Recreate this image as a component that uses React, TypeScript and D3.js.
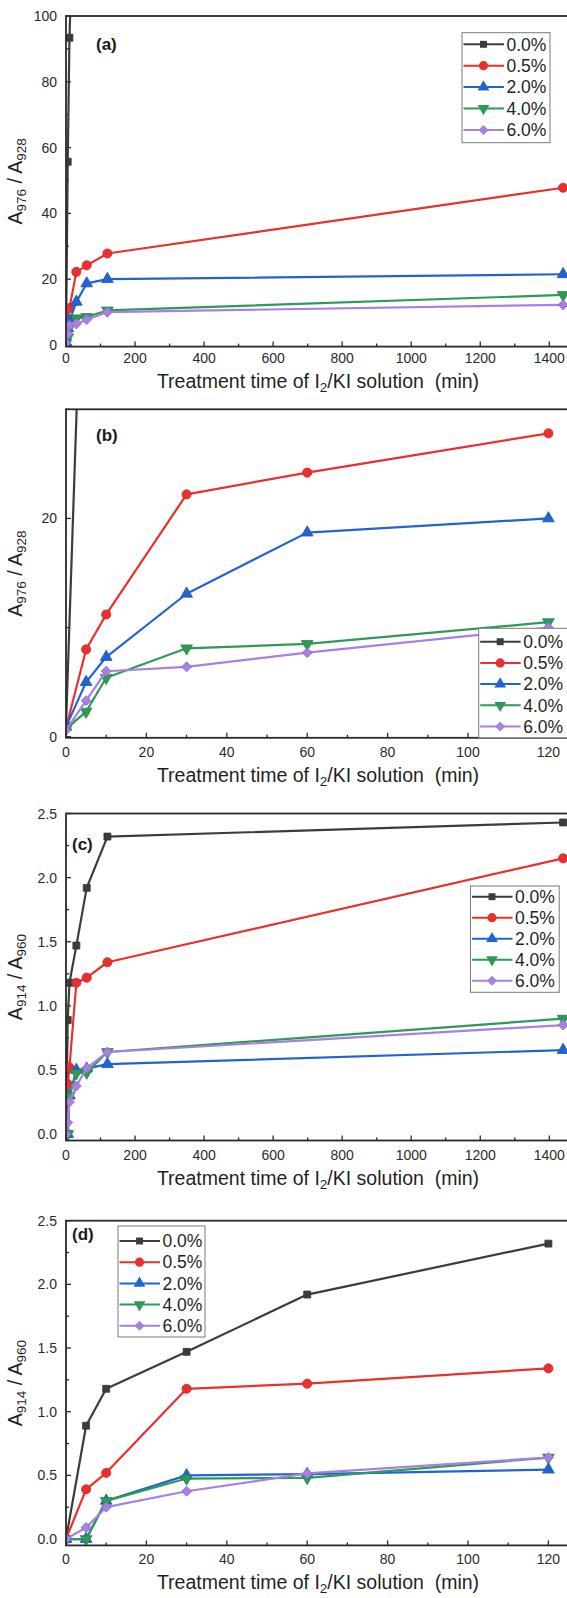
import React, { useEffect, useRef } from 'react';
import * as d3 from 'd3';

// treatment times (min)
const timeMin = [0, 5, 10, 30, 60, 120, 1440];

const seriesNames = ['0.0%', '0.5%', '2.0%', '4.0%', '6.0%'];
const seriesColors = ['#3c3c3c', '#e8312f', '#2263d4', '#2e9a57', '#a97fe4'];
const seriesMarkers = ['square', 'circle', 'triangle', 'triangleDown', 'diamond'];

// A976 / A928 (panels a, b); black series runs off the top after 10 min
const r976_00 = [1.0, 55.7, 93.4, 160, null, null, null];
const r976_05 = [0.8, 8.0, 11.2, 22.2, 24.2, 27.8, 47.8];
const r976_20 = [0.9, 5.0, 7.3, 13.1, 18.7, 20.0, 21.5];
const r976_40 = [0.7, 2.3, 5.4, 8.1, 8.5, 10.5, 15.2];
const r976_60 = [0.6, 3.3, 6.0, 6.4, 7.7, 10.0, 12.2];

// A914 / A960 (panels c, d)
const r914_00 = [0, 0.89, 1.18, 1.47, 1.92, 2.32, 2.43];
const r914_05 = [0, 0.39, 0.52, 1.18, 1.22, 1.34, 2.15];
const r914_20 = [0, 0.0, 0.30, 0.50, 0.51, 0.545, 0.655];
const r914_40 = [0, 0.0, 0.30, 0.475, 0.48, 0.64, 0.90];
const r914_60 = [0, 0.09, 0.25, 0.375, 0.515, 0.64, 0.85];

const longTimeTicks = [0, 200, 400, 600, 800, 1000, 1200, 1400];
const shortTimeTicks = [0, 20, 40, 60, 80, 100, 120];
const r976LongTicks = [0, 20, 40, 60, 80, 100];
const r976ShortTicks = [0, 20];
const r914Ticks = [0, 0.5, 1.0, 1.5, 2.0, 2.5];

const FONT = "'Liberation Sans', Arial, Helvetica, sans-serif";

const panels = [
  {
    label: '(a)', labelX: 96, labelY: 49.5,
    top: 16, bottom: 346.6, yDomain: [-0.5, 100], yTicks: r976LongTicks, yMinor: 10, yFmt: d3.format('d'),
    xDomain: [0, 1460], xRange: [66, 570], xTicks: longTimeTicks, xMinor: 100,
    series: [r976_00, r976_05, r976_20, r976_40, r976_60],
    sub: ['976', '928'], tickGap: 16, titleGap: 41,
    legend: { x: 462, y: 32.7, w: 88, h: 110, first: 11.6, step: 21.4 },
  },
  {
    label: '(b)', labelX: 96, labelY: 441,
    top: 409.3, bottom: 737.8, yDomain: [-0.1, 30], yTicks: r976ShortTicks, yMinor: 10, yFmt: d3.format('d'),
    xDomain: [0, 125], xRange: [66, 568.5], xTicks: shortTimeTicks, xMinor: 10,
    series: [r976_00, r976_05, r976_20, r976_40, r976_60],
    sub: ['976', '928'], tickGap: 19, titleGap: 44,
    legend: { x: 478.7, y: 628.3, w: 95, h: 109.5, first: 13.4, step: 21.2 },
  },
  {
    label: '(c)', labelX: 72, labelY: 849.5,
    top: 813.5, bottom: 1140.5, yDomain: [-0.05, 2.5], yTicks: r914Ticks, yMinor: 0.25, yFmt: d3.format('.1f'),
    xDomain: [0, 1460], xRange: [66, 570], xTicks: longTimeTicks, xMinor: 100,
    series: [r914_00, r914_05, r914_20, r914_40, r914_60],
    sub: ['914', '960'], tickGap: 19, titleGap: 44,
    legend: { x: 470.5, y: 886, w: 88.7, h: 106.3, first: 10.7, step: 21 },
  },
  {
    label: '(d)', labelX: 72, labelY: 1239.5,
    top: 1220.7, bottom: 1545.4, yDomain: [-0.05, 2.5], yTicks: r914Ticks, yMinor: 0.25, yFmt: d3.format('.1f'),
    xDomain: [0, 125], xRange: [66, 568.5], xTicks: shortTimeTicks, xMinor: 10,
    series: [r914_00, r914_05, r914_20, r914_40, r914_60],
    sub: ['914', '960'], tickGap: 19, titleGap: 44,
    legend: { x: 118, y: 1226, w: 87, h: 111, first: 15, step: 21.2 },
  },
];

const markerPath = (kind: string) => {
  if (kind === 'square') return d3.symbol(d3.symbolSquare, 48)();
  if (kind === 'circle') return d3.symbol(d3.symbolCircle, 66)();
  if (kind === 'triangle' || kind === 'triangleDown') return d3.symbol(d3.symbolTriangle, 60)();
  return d3.symbol(d3.symbolSquare, 50)();
};
const markerRot = (kind: string) => (kind === 'triangleDown' ? 180 : kind === 'diamond' ? 45 : 0);

export default function App() {
  const ref = useRef<SVGSVGElement | null>(null);

  useEffect(() => {
    const svg = d3.select(ref.current);
    svg.selectAll('*').remove();

    panels.forEach((p, pi) => {
      const x = d3.scaleLinear().domain(p.xDomain).range(p.xRange);
      const y = d3.scaleLinear().domain(p.yDomain).range([p.bottom, p.top]);
      const g = svg.append('g');
      const clipId = 'clip' + pi;
      g.append('clipPath').attr('id', clipId).append('rect')
        .attr('x', p.xRange[0]).attr('y', p.top)
        .attr('width', p.xRange[1] - p.xRange[0]).attr('height', p.bottom - p.top);

      // minor + major ticks (inward)
      const x0 = p.xRange[0];
      const yMinorVals = d3.range(p.yTicks[0], p.yDomain[1] + 1e-9, p.yMinor);
      yMinorVals.forEach(v => {
        const major = p.yTicks.some(t => Math.abs(t - v) < 1e-9);
        g.append('line').attr('x1', x0).attr('x2', x0 + (major ? 5 : 3))
          .attr('y1', y(v)).attr('y2', y(v)).attr('stroke', '#2a2a2a').attr('stroke-width', 1.3);
      });
      const xMinorVals = d3.range(p.xTicks[0], p.xDomain[1], p.xMinor);
      xMinorVals.forEach(v => {
        const major = p.xTicks.some(t => Math.abs(t - v) < 1e-9);
        g.append('line').attr('x1', x(v)).attr('x2', x(v))
          .attr('y1', p.bottom).attr('y2', p.bottom - (major ? 5 : 3)).attr('stroke', '#2a2a2a').attr('stroke-width', 1.3);
      });

      // tick labels
      g.selectAll('.yl').data(p.yTicks).join('text')
        .attr('x', 57).attr('y', d => y(d) + 5)
        .attr('text-anchor', 'end').attr('font-size', 14).attr('fill', '#2b2b2b')
        .attr('font-family', FONT).text(d => p.yFmt(d));
      g.selectAll('.xl').data(p.xTicks).join('text')
        .attr('x', d => x(d)).attr('y', p.bottom + p.tickGap)
        .attr('text-anchor', 'middle').attr('font-size', 14).attr('fill', '#2b2b2b')
        .attr('font-family', FONT).text(d => String(d));

      // series
      const plot = g.append('g').attr('clip-path', `url(#${clipId})`);
      p.series.forEach((vals, si) => {
        const pts = timeMin.map((t, i) => ({ t, v: vals[i] })).filter(d => d.v !== null && d.t <= p.xDomain[1] + 30);
        const line = d3.line<{ t: number; v: number | null }>().x(d => x(d.t)).y(d => y(d.v as number));
        plot.append('path').attr('d', line(pts)).attr('fill', 'none')
          .attr('stroke', seriesColors[si]).attr('stroke-width', 2.2).attr('stroke-linejoin', 'round');
        plot.selectAll(null).data(pts).join('path')
          .attr('d', markerPath(seriesMarkers[si]))
          .attr('transform', d => `translate(${x(d.t)},${y(d.v as number)}) rotate(${markerRot(seriesMarkers[si])})`)
          .attr('fill', seriesColors[si]).attr('stroke', d3.color(seriesColors[si])!.darker(0.4).toString())
          .attr('stroke-width', 0.8);
      });

      // frame
      g.append('rect').attr('x', p.xRange[0]).attr('y', p.top)
        .attr('width', p.xRange[1] - p.xRange[0]).attr('height', p.bottom - p.top)
        .attr('fill', 'none').attr('stroke', '#2a2a2a').attr('stroke-width', 1.8);

      // panel label
      g.append('text').attr('x', p.labelX).attr('y', p.labelY)
        .attr('font-size', 17).attr('font-weight', 'bold').attr('font-family', FONT)
        .attr('fill', '#1a1a1a').text(p.label);

      // legend
      const L = p.legend;
      const lg = g.append('g');
      lg.append('rect').attr('x', L.x).attr('y', L.y).attr('width', L.w).attr('height', L.h)
        .attr('fill', 'white').attr('stroke', '#7a7a7a').attr('stroke-width', 1);
      seriesNames.forEach((name, si) => {
        const ry = L.y + L.first + si * L.step;
        lg.append('line').attr('x1', L.x + 1.5).attr('x2', L.x + 42).attr('y1', ry).attr('y2', ry)
          .attr('stroke', seriesColors[si]).attr('stroke-width', 2);
        lg.append('path').attr('d', markerPath(seriesMarkers[si]))
          .attr('transform', `translate(${L.x + 21.5},${ry}) rotate(${markerRot(seriesMarkers[si])})`)
          .attr('fill', seriesColors[si]);
        lg.append('text').attr('x', L.x + 44.5).attr('y', ry + 6.2)
          .attr('font-size', 17.5).attr('font-family', FONT).attr('fill', '#1f1f1f').text(name);
      });

      // y title
      const yt = g.append('text')
        .attr('transform', `translate(22,${(p.top + p.bottom) / 2}) rotate(-90)`)
        .attr('text-anchor', 'middle').attr('font-size', 19.5).attr('font-family', FONT)
        .attr('fill', '#1f1f1f').style('white-space', 'pre');
      yt.append('tspan').text('A');
      yt.append('tspan').attr('font-size', 13.5).attr('dy', 4).text(p.sub[0]);
      yt.append('tspan').attr('dy', -4).text(' / A');
      yt.append('tspan').attr('font-size', 13.5).attr('dy', 4).text(p.sub[1]);

      // x title
      const xt = g.append('text').attr('x', 318).attr('y', p.bottom + p.titleGap)
        .attr('text-anchor', 'middle').attr('font-size', 19.5).attr('font-family', FONT)
        .attr('fill', '#1f1f1f').style('white-space', 'pre');
      xt.append('tspan').text('Treatment time of I');
      xt.append('tspan').attr('font-size', 13.5).attr('dy', 4).text('2');
      xt.append('tspan').attr('dy', -4).text('/KI solution  (min)');
    });
  }, []);

  return (
    <svg ref={ref} width={567} height={1598}
      style={{ position: 'absolute', left: 0, top: 0, background: 'white', overflow: 'hidden' }} />
  );
}
